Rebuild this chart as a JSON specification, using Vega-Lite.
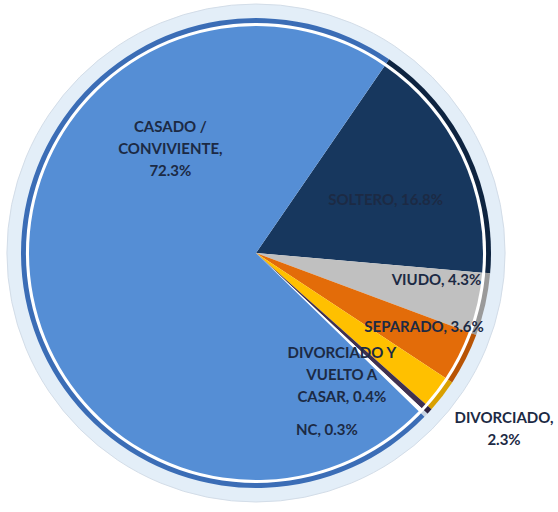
{
  "$schema": "https://vega.github.io/schema/vega-lite/v6.json",
  "width": 512,
  "height": 506,
  "autosize": {"type": "none"},
  "padding": {"left": 0, "top": 0, "right": 46, "bottom": 6},
  "background": "white",
  "config": {"view": {"stroke": null}},
  "data": {
    "values": [
      {"estado": "SOLTERO", "pct": 16.8, "orden": 1, "etiqueta": "SOLTERO, 16.8%"},
      {"estado": "VIUDO", "pct": 4.3, "orden": 2, "etiqueta": "VIUDO, 4.3%"},
      {"estado": "SEPARADO", "pct": 3.6, "orden": 3, "etiqueta": "SEPARADO, 3.6%"},
      {"estado": "DIVORCIADO", "pct": 2.3, "orden": 4, "etiqueta": "DIVORCIADO,\n2.3%"},
      {"estado": "DIVORCIADO Y VUELTO A CASAR", "pct": 0.4, "orden": 5, "etiqueta": "DIVORCIADO Y\nVUELTO A\nCASAR, 0.4%"},
      {"estado": "NC", "pct": 0.3, "orden": 6, "etiqueta": "NC, 0.3%"},
      {"estado": "CASADO / CONVIVIENTE", "pct": 72.3, "orden": 7, "etiqueta": "CASADO /\nCONVIVIENTE,\n72.3%"}
    ]
  },
  "resolve": {"scale": {"color": "independent"}},
  "layer": [
    {
      "data": {"values": [{"anillo": "exterior"}]},
      "mark": {"type": "arc", "theta": 0, "theta2": 6.2832, "radius": 249, "fill": "#e3eef8", "stroke": "#d3dde8", "strokeWidth": 1},
      "encoding": {}
    },
    {
      "mark": {"type": "arc", "radius": 235, "strokeWidth": 0},
      "encoding": {
        "theta": {"field": "pct", "type": "quantitative", "stack": true, "scale": {"range": [0.602, 6.885]}},
        "order": {"field": "orden", "type": "quantitative"},
        "color": {
          "field": "estado", "type": "nominal", "legend": null,
          "scale": {
            "domain": ["SOLTERO", "VIUDO", "SEPARADO", "DIVORCIADO", "DIVORCIADO Y VUELTO A CASAR", "NC", "CASADO / CONVIVIENTE"],
            "range": ["#0e2440", "#9a9a9a", "#b85405", "#d9a000", "#2e2240", "#c8d4e2", "#3b6db6"]
          }
        }
      }
    },
    {
      "data": {"values": [{"anillo": "blanco"}]},
      "mark": {"type": "arc", "theta": 0, "theta2": 6.2832, "radius": 230, "fill": "#ffffff"},
      "encoding": {}
    },
    {
      "mark": {"type": "arc", "radius": 227, "strokeWidth": 0},
      "encoding": {
        "theta": {"field": "pct", "type": "quantitative", "stack": true, "scale": {"range": [0.602, 6.885]}},
        "order": {"field": "orden", "type": "quantitative"},
        "color": {
          "field": "estado", "type": "nominal", "legend": null,
          "scale": {
            "domain": ["SOLTERO", "VIUDO", "SEPARADO", "DIVORCIADO", "DIVORCIADO Y VUELTO A CASAR", "NC", "CASADO / CONVIVIENTE"],
            "range": ["#17375e", "#c0c0c0", "#e36c09", "#ffc000", "#3f3151", "#ffffff", "#558ed5"]
          }
        }
      }
    },
    {
      "mark": {"type": "text", "radius": 140, "dx": 3, "dy": 7, "font": "Lato", "fontWeight": "bold", "fontSize": 15, "lineHeight": 22, "lineBreak": "\n", "color": "#1c2a44", "align": "center", "baseline": "middle"},
      "encoding": {
        "theta": {"field": "pct", "type": "quantitative", "stack": true},
        "order": {"field": "orden", "type": "quantitative"},
        "text": {"condition": {"test": "datum.orden === 1", "field": "etiqueta"}, "value": ""}
      }
    },
    {
      "mark": {"type": "text", "radius": 183, "dx": 2, "dy": -13, "font": "Lato", "fontWeight": "bold", "fontSize": 15, "lineHeight": 22, "lineBreak": "\n", "color": "#1c2a44", "align": "center", "baseline": "middle"},
      "encoding": {
        "theta": {"field": "pct", "type": "quantitative", "stack": true},
        "order": {"field": "orden", "type": "quantitative"},
        "text": {"condition": {"test": "datum.orden === 2", "field": "etiqueta"}, "value": ""}
      }
    },
    {
      "mark": {"type": "text", "radius": 184, "dx": 4, "dy": -9, "font": "Lato", "fontWeight": "bold", "fontSize": 15, "lineHeight": 22, "lineBreak": "\n", "color": "#1c2a44", "align": "center", "baseline": "middle"},
      "encoding": {
        "theta": {"field": "pct", "type": "quantitative", "stack": true},
        "order": {"field": "orden", "type": "quantitative"},
        "text": {"condition": {"test": "datum.orden === 3", "field": "etiqueta"}, "value": ""}
      }
    },
    {
      "mark": {"type": "text", "radius": 304, "dx": 7, "dy": -20, "font": "Lato", "fontWeight": "bold", "fontSize": 15, "lineHeight": 22, "lineBreak": "\n", "color": "#1c2a44", "align": "center", "baseline": "middle"},
      "encoding": {
        "theta": {"field": "pct", "type": "quantitative", "stack": true},
        "order": {"field": "orden", "type": "quantitative"},
        "text": {"condition": {"test": "datum.orden === 4", "field": "etiqueta"}, "value": ""}
      }
    },
    {
      "mark": {"type": "text", "radius": 146, "dx": -22, "dy": 2, "font": "Lato", "fontWeight": "bold", "fontSize": 15, "lineHeight": 22, "lineBreak": "\n", "color": "#1c2a44", "align": "center", "baseline": "middle"},
      "encoding": {
        "theta": {"field": "pct", "type": "quantitative", "stack": true},
        "order": {"field": "orden", "type": "quantitative"},
        "text": {"condition": {"test": "datum.orden === 5", "field": "etiqueta"}, "value": ""}
      }
    },
    {
      "mark": {"type": "text", "radius": 174, "dx": -55, "dy": 57, "font": "Lato", "fontWeight": "bold", "fontSize": 15, "lineHeight": 22, "lineBreak": "\n", "color": "#1c2a44", "align": "center", "baseline": "middle"},
      "encoding": {
        "theta": {"field": "pct", "type": "quantitative", "stack": true},
        "order": {"field": "orden", "type": "quantitative"},
        "text": {"condition": {"test": "datum.orden === 6", "field": "etiqueta"}, "value": ""}
      }
    },
    {
      "mark": {"type": "text", "radius": 76, "dx": -10, "dy": -133, "font": "Lato", "fontWeight": "bold", "fontSize": 15, "lineHeight": 22, "lineBreak": "\n", "color": "#1c2a44", "align": "center", "baseline": "middle"},
      "encoding": {
        "theta": {"field": "pct", "type": "quantitative", "stack": true},
        "order": {"field": "orden", "type": "quantitative"},
        "text": {"condition": {"test": "datum.orden === 7", "field": "etiqueta"}, "value": ""}
      }
    }
  ]
}
